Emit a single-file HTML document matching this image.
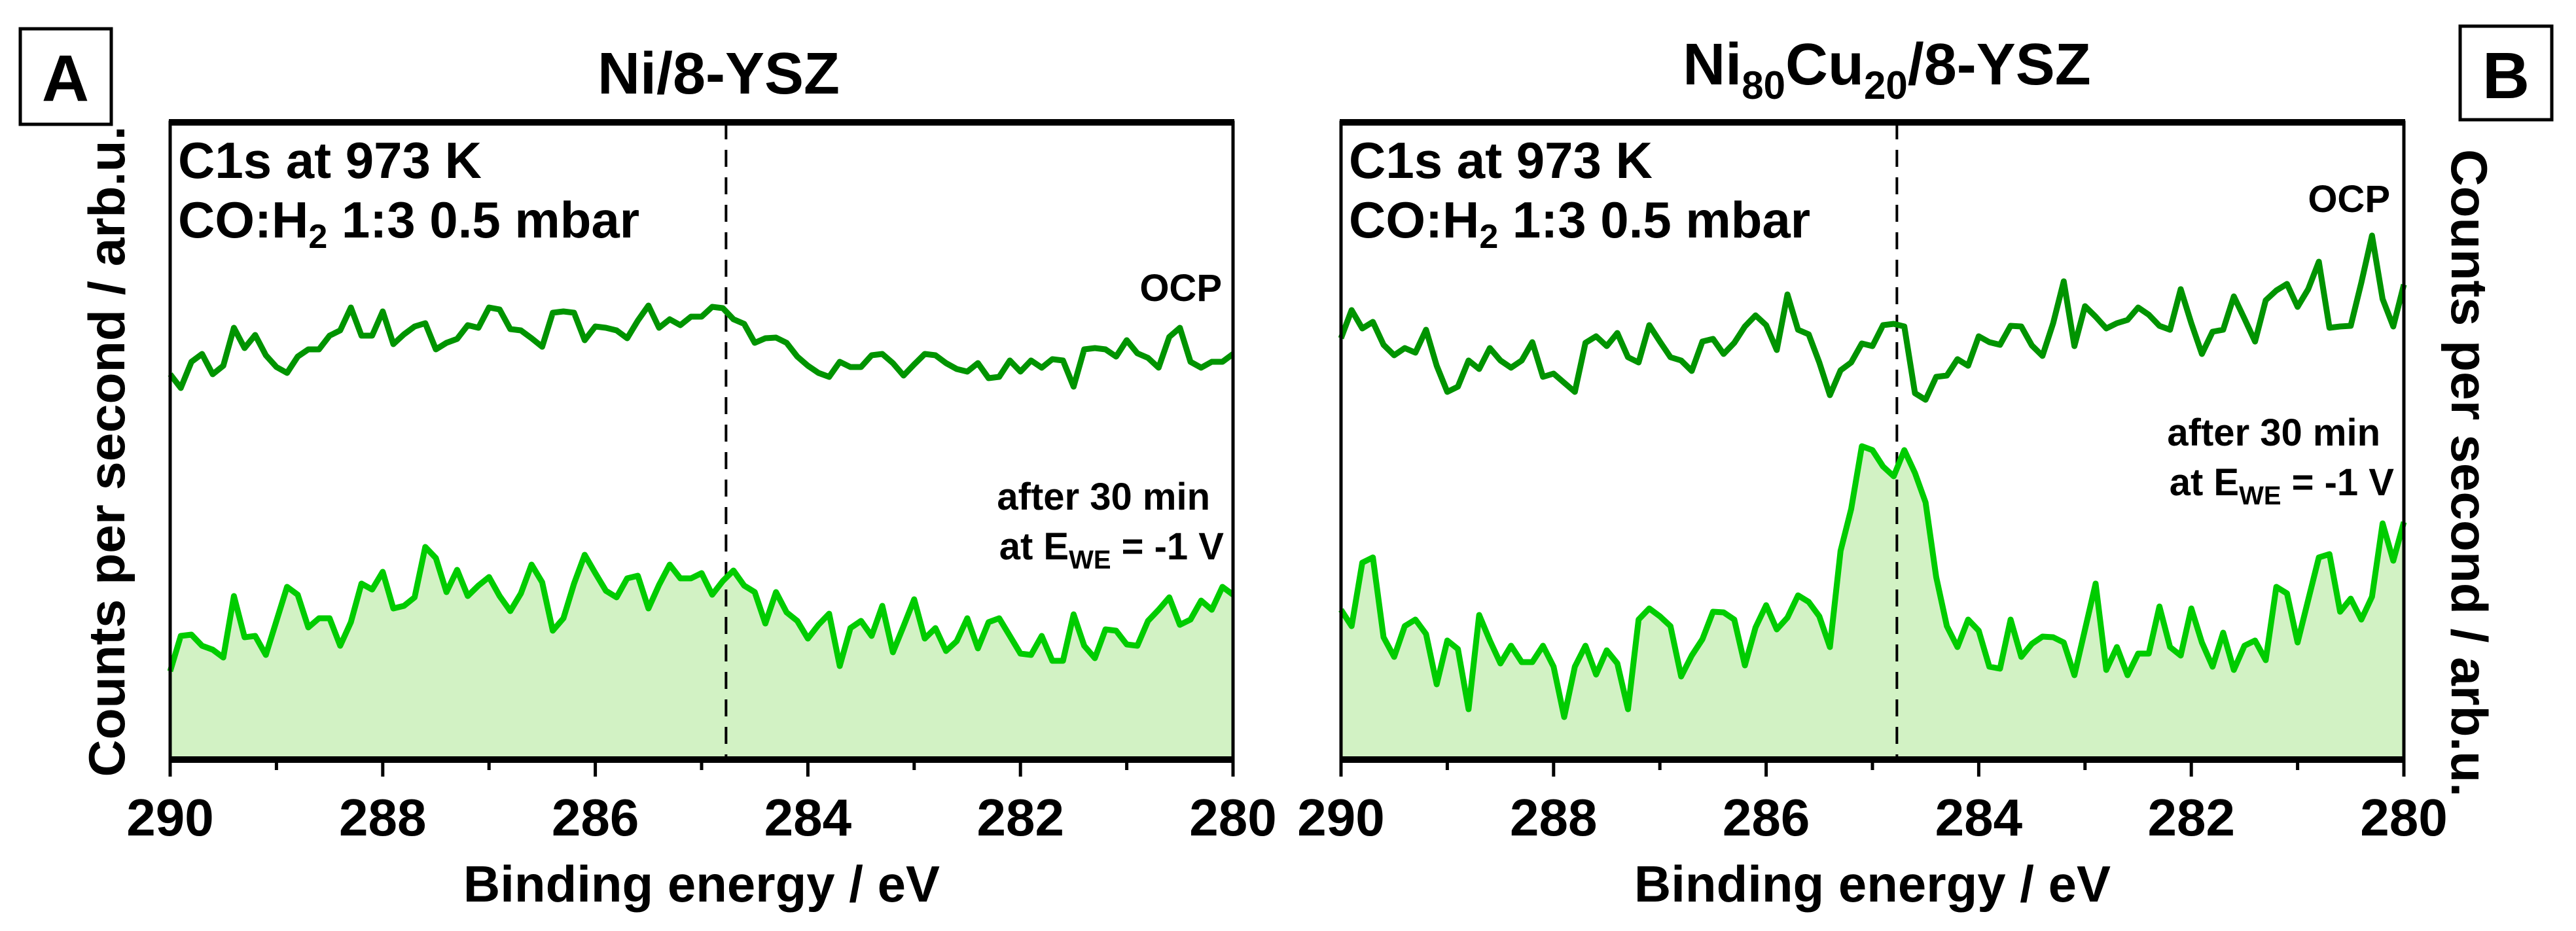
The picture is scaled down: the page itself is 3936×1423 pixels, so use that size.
<!DOCTYPE html>
<html><head><meta charset="utf-8"><style>
html,body{margin:0;padding:0;background:#fff;}
svg{display:block;font-family:"Liberation Sans",Arial,sans-serif;font-weight:bold;}
</style></head>
<body>
<svg id="fig" width="3936" height="1423" viewBox="0 0 3936 1423" xmlns="http://www.w3.org/2000/svg">
  <g>
    <rect x="31" y="44" width="139" height="146" fill="none" stroke="#000" stroke-width="5"/>
    <text x="100" y="154" font-size="100" text-anchor="middle">A</text>
  </g>
  <g>
    <rect x="3759" y="40" width="140" height="143" fill="none" stroke="#000" stroke-width="5"/>
    <text x="3829" y="150" font-size="100" text-anchor="middle">B</text>
  </g>
  <text x="1098" y="143" font-size="90" text-anchor="middle">Ni/8-YSZ</text>
  <text x="2883" y="129" font-size="90" text-anchor="middle">Ni<tspan font-size="60" dy="22">80</tspan><tspan dy="-22">Cu</tspan><tspan font-size="60" dy="22">20</tspan><tspan dy="-22">/8-YSZ</tspan></text>
  <text transform="translate(190,690) rotate(-90)" font-size="78" text-anchor="middle" textLength="995" lengthAdjust="spacingAndGlyphs">Counts per second / arb.u.</text>
  <text transform="translate(3746,723) rotate(90)" font-size="78" text-anchor="middle" textLength="990" lengthAdjust="spacingAndGlyphs">Counts per second / arb.u.</text>
  <g id="pl"></g>
  <g id="pr"></g>
</svg>
<script>
const ticks = [290, 288, 286, 284, 282, 280];
const minorTicks = [289, 287, 285, 283, 281];
const dashPos = 284.77;
const ocpLeft = [589,568,608,620,589,602,660,629,649,618,600,591,616,627,627,648,656,691,648,648,685,635,650,662,667,627,637,643,664,660,691,688,658,656,644,631,683,685,683,641,662,660,656,644,671,694,660,673,664,677,677,
692,690,673,666,637,644,645,637,616,602,591,585,608,600,600,618,620,606,587,604,620,618,606,597,593,606,583,585,610,593,610,599,612,610,570,627,629,627,616,641,621,614,599,646,660,608,599,608,608,620];
const biasLeft = [135,189,191,174,168,156,250,187,189,160,212,264,252,202,216,216,174,210,269,260,287,231,235,248,325,308,256,290,250,266,279,250,227,254,298,271,197,216,269,313,285,258,248,277,281,231,267,298,277,277,285,
252,273,289,266,256,208,256,225,212,185,206,223,143,201,212,189,235,164,204,245,185,201,166,181,216,170,210,216,189,162,160,189,151,151,222,174,155,199,197,176,174,212,229,248,206,214,243,229,264,252];
const ocpRight = [644,687,659,669,634,618,629,622,657,602,562,570,610,597,629,610,599,610,638,585,590,576,562,637,647,632,652,615,607,664,639,615,610,594,639,643,620,637,662,679,664,626,711,657,650,607,557,595,607,636,632,
664,666,662,560,550,585,587,612,602,647,638,634,663,662,633,617,667,731,632,693,677,659,667,672,691,680,663,657,719,667,620,654,657,708,674,639,702,717,727,692,719,761,660,662,663,729,801,704,662,726];
const biasRight = [229,204,301,309,187,157,204,214,192,115,182,169,77,221,182,147,174,149,149,174,142,65,142,174,130,167,147,77,214,231,219,204,127,159,184,226,225,214,144,202,236,199,217,251,241,219,172,319,383,479,473,
448,433,473,438,393,279,204,172,214,197,142,139,214,157,177,188,187,179,129,199,269,137,172,129,162,162,234,172,159,231,179,142,194,137,174,182,152,264,254,179,244,309,314,226,246,214,249,361,304,363];
const eStart = 290, eStep = -0.1;

const NS = "http://www.w3.org/2000/svg";
function mk(parent, tag, attrs, txt) {
  const el = document.createElementNS(NS, tag);
  for (const k in attrs) el.setAttribute(k, attrs[k]);
  if (txt !== undefined) el.textContent = txt;
  parent.appendChild(el);
  return el;
}
const TOP = 187, BOT = 1161, W = 1624;
function panel(gid, x0, ocp, bias, side) {
  const g = document.getElementById(gid);
  const xs = e => x0 + (290 - e) / 10 * W;
  const ys = v => BOT - v;
  // fill
  let d = "M" + xs(eStart) + "," + BOT;
  bias.forEach((v, i) => { d += " L" + xs(eStart + eStep * i).toFixed(1) + "," + ys(v); });
  d += " L" + xs(eStart + eStep * (bias.length - 1)) + "," + BOT + " Z";
  const fill = mk(g, "path", {d: d, fill: "#d2f2c4"});
  
  
  // dashed line
  const dl = mk(g, "line", {x1: xs(dashPos), x2: xs(dashPos), y1: TOP, y2: BOT, stroke: "#000", "stroke-width": 4, "stroke-dasharray": "26,16"});
  
  
  function line(arr, col, name) {
    let p = "";
    arr.forEach((v, i) => { p += (i ? " L" : "M") + xs(eStart + eStep * i).toFixed(1) + "," + ys(v); });
    const el = mk(g, "path", {d: p, fill: "none", stroke: col, "stroke-width": 9, "stroke-linejoin": "round"});
    
    
  }
  line(bias, "#00cc00", "bias-series-line");
  line(ocp, "#009400", "ocp-series-line");
  // frame
  const fr = mk(g, "rect", {x: x0, y: TOP, width: W, height: BOT - TOP, fill: "none", stroke: "#000", "stroke-width": 5});
  
  
  const t1 = mk(g, "line", {x1: x0 - 2, x2: x0 + W + 2, y1: TOP, y2: TOP, stroke: "#000", "stroke-width": 10});
  
  
  const b1 = mk(g, "line", {x1: x0 - 2, x2: x0 + W + 2, y1: BOT, y2: BOT, stroke: "#000", "stroke-width": 10});
  
  
  ticks.forEach(t => {
    const tk = mk(g, "line", {x1: xs(t), x2: xs(t), y1: BOT, y2: BOT + 26, stroke: "#000", "stroke-width": 5});
    
    
    const lb = mk(g, "text", {x: xs(t), y: 1277, "font-size": 80, "text-anchor": "middle"}, String(t));
    
    
  });
  minorTicks.forEach(t => {
    const tk = mk(g, "line", {x1: xs(t), x2: xs(t), y1: BOT, y2: BOT + 16, stroke: "#000", "stroke-width": 5});
    
    
  });
  const xt = mk(g, "text", {x: x0 + W / 2, y: 1378, "font-size": 78, "text-anchor": "middle"}, "Binding energy / eV");
  
  
  // annotations
  const c1 = mk(g, "text", {x: x0 + 12, y: 272, "font-size": 78}, "C1s at 973 K");
  
  
  const c2 = mk(g, "text", {x: x0 + 12, y: 363, "font-size": 78});
  
  
  c2.innerHTML = 'CO:H<tspan font-size="52" dy="16">2</tspan><tspan dy="-16"> 1:3 0.5 mbar</tspan>';
  const ocpY = side === "L" ? 460 : 324;
  const ocpX = side === "L" ? 1867 : 3652;
  const o = mk(g, "text", {x: ocpX, y: ocpY, "font-size": 58, "text-anchor": "end"}, "OCP");
  
  
  const a1y = side === "L" ? 779 : 681;
  const a1x = side === "L" ? 1849 : 3637;
  const a1 = mk(g, "text", {x: a1x, y: a1y, "font-size": 58, "text-anchor": "end"}, "after 30 min");
  
  
  const a2 = mk(g, "text", {x: a1x + 21, y: a1y + 76, "font-size": 58, "text-anchor": "end"});
  
  
  a2.innerHTML = 'at E<tspan font-size="40" dy="14">WE</tspan><tspan dy="-14"> = -1 V</tspan>';
}
panel("pl", 260, ocpLeft, biasLeft, "L");
panel("pr", 2049, ocpRight, biasRight, "R");
</script>
</body></html>
